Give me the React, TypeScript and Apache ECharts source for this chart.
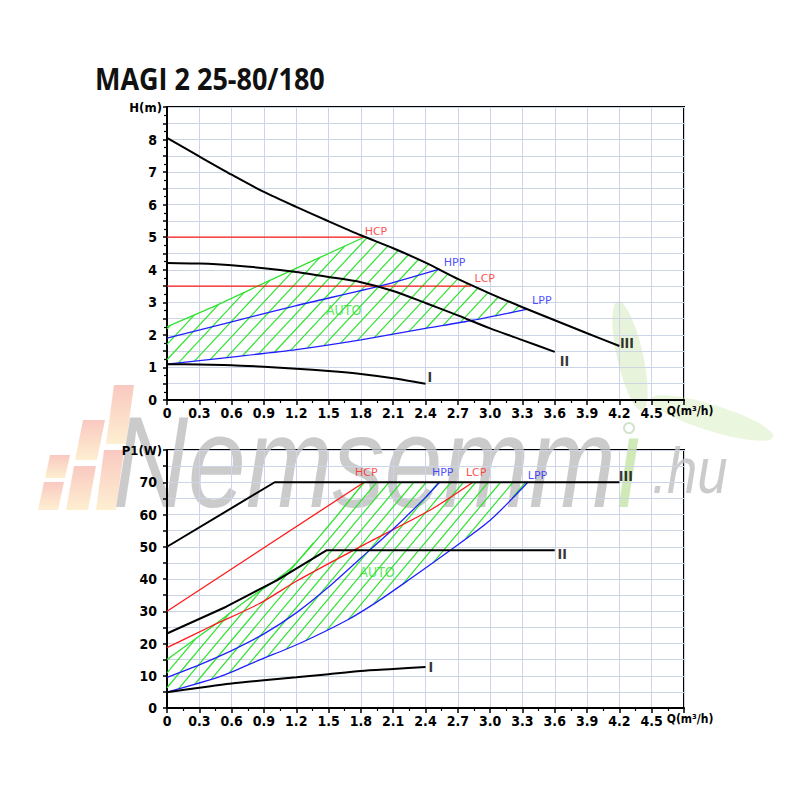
import React, { useEffect, useRef } from 'react';
import * as echarts from 'echarts';

const TITLE = 'MAGI 2 25-80/180';
const RED = '#ff1a1a';
const BLUE = '#2020ff';
const GREEN = '#2fe22f';
const BLACK = '#000000';
const GRID_COLOR = '#cbd5e6';
const AXIS_FONT = "'Liberation Sans Narrow', 'DejaVu Sans Condensed', 'Roboto Condensed', sans-serif";
const TAG_FONT = "'DejaVu Sans', Verdana, sans-serif";

// ---------- x axis ----------
const Q_MIN = 0;
const Q_MAX = 4.8;
const Q_STEP = 0.3;
const Q_NAME = 'Q(m³/h)';

// ---------- head chart H(m) ----------
const headIII = [[0, 8.05], [0.3, 7.48], [0.6, 6.92], [0.9, 6.39], [1.2, 5.93], [1.5, 5.49], [1.8, 5.06], [2.1, 4.66], [2.4, 4.22], [2.7, 3.72], [3.0, 3.27], [3.3, 2.85], [3.6, 2.45], [3.9, 2.05], [4.2, 1.66]];
const headII = [[0, 4.21], [0.3, 4.19], [0.6, 4.14], [0.9, 4.05], [1.2, 3.93], [1.5, 3.78], [1.8, 3.62], [2.1, 3.35], [2.4, 2.98], [2.7, 2.6], [3.0, 2.2], [3.3, 1.84], [3.6, 1.48]];
const headI = [[0, 1.1], [0.3, 1.09], [0.6, 1.07], [0.9, 1.02], [1.2, 0.96], [1.5, 0.89], [1.8, 0.8], [2.1, 0.67], [2.4, 0.5]];
const headHCP = [[0, 5], [1.83, 5]];
const headLCP = [[0, 3.5], [2.82, 3.5]];
const headHPP = [[0, 1.9], [0.6, 2.4], [1.2, 2.9], [2.0, 3.52], [2.53, 4.02]];
const headLPP = [[0, 1.1], [0.6, 1.32], [1.2, 1.55], [1.8, 1.85], [2.4, 2.2], [2.84, 2.45], [3.35, 2.79]];
const headAutoEdge = [[0, 2.25], [0.4, 2.82], [0.96, 3.68], [1.83, 5.0]];
const headLabels = [
  { text: 'HCP', q: 1.94, v: 5.19, color: RED, kind: 'tag' },
  { text: 'HPP', q: 2.67, v: 4.21, color: BLUE, kind: 'tag' },
  { text: 'LCP', q: 2.95, v: 3.74, color: RED, kind: 'tag' },
  { text: 'LPP', q: 3.48, v: 3.07, color: BLUE, kind: 'tag' },
  { text: 'AUTO', q: 1.64, v: 2.76, color: GREEN, kind: 'auto' },
  { text: 'III', q: 4.27, v: 1.76, color: BLACK, kind: 'speed' },
  { text: 'II', q: 3.69, v: 1.2, color: BLACK, kind: 'speed' },
  { text: 'I', q: 2.44, v: 0.7, color: BLACK, kind: 'speed' },
];

// ---------- power chart P1(W) ----------
const powerIII = [[0, 50], [1.0, 70], [4.2, 70]];
const powerII = [[0, 23.1], [0.55, 31.4], [1.02, 39.6], [1.48, 48.9], [3.6, 48.9]];
const powerI = [[0, 4.9], [0.3, 6.3], [0.6, 7.6], [0.9, 8.6], [1.2, 9.5], [1.5, 10.5], [1.8, 11.5], [2.1, 12.1], [2.4, 12.7]];
const powerHCP = [[0, 30], [1.83, 70]];
const powerLCP = [[0, 18.7], [0.4, 25.2], [0.86, 32.4], [1.2, 39.3], [1.85, 51], [2.44, 61.3], [2.84, 70]];
const powerHPP = [[0, 9.5], [0.3, 13.4], [0.6, 17.8], [0.9, 23], [1.2, 29.5], [1.5, 37.5], [1.8, 46.5], [2.1, 55.5], [2.4, 65.3], [2.53, 70]];
const powerLPP = [[0, 4.9], [0.49, 9.7], [0.86, 14.9], [1.23, 20], [1.67, 27.2], [1.95, 32.9], [2.24, 39.6], [2.63, 48.9], [3.0, 58.2], [3.35, 70]];
const powerAutoEdge = [[0, 15], [0.37, 24], [0.74, 33.4], [1.14, 43], [1.5, 56.5], [1.83, 70]];
const powerLabels = [
  { text: 'HCP', q: 1.85, v: 73, color: RED, kind: 'tag' },
  { text: 'HPP', q: 2.56, v: 73, color: BLUE, kind: 'tag' },
  { text: 'LCP', q: 2.87, v: 73, color: RED, kind: 'tag' },
  { text: 'LPP', q: 3.44, v: 72.1, color: BLUE, kind: 'tag' },
  { text: 'AUTO', q: 1.95, v: 42.2, color: GREEN, kind: 'auto' },
  { text: 'III', q: 4.26, v: 71.8, color: BLACK, kind: 'speed' },
  { text: 'II', q: 3.67, v: 47.9, color: BLACK, kind: 'speed' },
  { text: 'I', q: 2.45, v: 12.8, color: BLACK, kind: 'speed' },
];

// ---------- helpers ----------
function interp(curve: number[][], q: number): number {
  for (let i = 0; i < curve.length - 1; i++) {
    const a = curve[i], b = curve[i + 1];
    if (q >= a[0] && q <= b[0]) return a[1] + (b[1] - a[1]) * (q - a[0]) / (b[0] - a[0]);
  }
  return curve[curve.length - 1][1];
}
function sliceCurve(curve: number[][], q0: number, q1: number): number[][] {
  const out = [[q0, interp(curve, q0)]];
  curve.forEach((p) => { if (p[0] > q0 && p[0] < q1) out.push(p); });
  out.push([q1, interp(curve, q1)]);
  return out;
}
function hatch(pts: number[][], angleDeg: number, spacing: number) {
  const a = angleDeg * Math.PI / 180;
  const d = [Math.cos(a), -Math.sin(a)];
  const n = [Math.sin(a), Math.cos(a)];
  const us = pts.map((p) => p[0] * n[0] + p[1] * n[1]);
  const umin = Math.min(...us), umax = Math.max(...us);
  const segs: number[][][] = [];
  for (let u = Math.ceil(umin / spacing) * spacing; u <= umax; u += spacing) {
    const hits: number[][] = [];
    for (let i = 0; i < pts.length; i++) {
      const j = (i + 1) % pts.length;
      const up = us[i], uq = us[j];
      if ((up < u && uq >= u) || (uq < u && up >= u)) {
        const t = (u - up) / (uq - up);
        const x = pts[i][0] + (pts[j][0] - pts[i][0]) * t;
        const y = pts[i][1] + (pts[j][1] - pts[i][1]) * t;
        hits.push([x, y, x * d[0] + y * d[1]]);
      }
    }
    hits.sort((A, B) => A[2] - B[2]);
    for (let k = 0; k + 1 < hits.length; k += 2) segs.push([hits[k], hits[k + 1]]);
  }
  return segs;
}

const headRegion = [[0, headLPP[0][1]], ...headAutoEdge, ...sliceCurve(headIII, 1.83, 3.35), ...headLPP.slice().reverse()];
const powerRegion = [...powerAutoEdge, ...sliceCurve(powerIII, 1.83, 3.35), ...powerLPP.slice().reverse()];

function hatchSeries(region: number[][], idx: number, spacing: number, angle: number) {
  return {
    type: 'custom', xAxisIndex: idx, yAxisIndex: idx, data: [[0, 0]], z: 3, silent: true,
    renderItem: (_p: any, api: any) => {
      const pts = region.map((p) => api.coord(p));
      const segs = hatch(pts, angle, spacing);
      return {
        type: 'group',
        children: segs.map((s) => ({
          type: 'line',
          shape: { x1: s[0][0], y1: s[0][1], x2: s[1][0], y2: s[1][1] },
          style: { stroke: GREEN, lineWidth: 1.2 },
        })),
      };
    },
  };
}

function lineSeries(data: number[][], color: string, width: number, idx: number, smooth: number | boolean) {
  return {
    type: 'line', xAxisIndex: idx, yAxisIndex: idx, data, symbol: 'none', showSymbol: false,
    smooth, silent: true, z: 4,
    lineStyle: { color, width },
  };
}

function labelSeries(list: any[], idx: number) {
  return {
    type: 'scatter', xAxisIndex: idx, yAxisIndex: idx, symbolSize: 0, silent: true, z: 6,
    data: list.map((l) => ({
      value: [l.q, l.v],
      label: {
        show: true, position: 'inside', formatter: l.text, color: l.color,
        fontFamily: l.kind === 'tag' ? TAG_FONT : AXIS_FONT,
        fontSize: l.kind === 'tag' ? 11 : 14,
        fontWeight: l.kind === 'speed' ? 'bold' : 'normal',
      },
    })),
  };
}

function xAxis(idx: number) {
  return {
    type: 'value', gridIndex: idx, min: Q_MIN, max: Q_MAX, interval: Q_STEP, z: 2,
    name: Q_NAME, nameLocation: 'end', nameGap: -19,
    nameTextStyle: {
      color: BLACK, fontFamily: AXIS_FONT, fontSize: 12, fontWeight: 'bold',
      align: 'left', verticalAlign: 'top', padding: [5, 0, 0, 0],
    },
    axisLine: { show: true, onZero: false, lineStyle: { color: BLACK, width: 2 } },
    axisTick: { show: true, length: 5, lineStyle: { color: BLACK, width: 1.5 } },
    minorTick: { show: true, splitNumber: 2, length: 3, lineStyle: { color: BLACK, width: 1.2 } },
    splitLine: { show: true, lineStyle: { color: GRID_COLOR, width: 1 } },
    axisLabel: {
      color: BLACK, fontFamily: AXIS_FONT, fontSize: 14, fontWeight: 'bold', margin: 6,
      showMaxLabel: true, showMinLabel: true, hideOverlap: false,
      formatter: (v: number) => (Math.abs(v - Q_MAX) < 1e-6 ? '' : Math.abs(v) < 1e-9 ? '0' : v.toFixed(1)),
    },
  };
}

function yAxis(idx: number, max: number, step: number, labelStep: number, name: string, minorSplit: number) {
  return {
    type: 'value', gridIndex: idx, min: 0, max, interval: step, z: 2,
    axisLine: { show: true, onZero: false, lineStyle: { color: BLACK, width: 2 } },
    axisTick: { show: true, length: 4, lineStyle: { color: BLACK, width: 1.5 } },
    minorTick: { show: minorSplit > 1, splitNumber: minorSplit, length: 3, lineStyle: { color: BLACK, width: 1.2 } },
    splitLine: { show: true, lineStyle: { color: GRID_COLOR, width: 1 } },
    axisLabel: {
      color: BLACK, fontFamily: AXIS_FONT, fontSize: 14, fontWeight: 'bold', margin: 10,
      showMaxLabel: true, hideOverlap: false,
      formatter: (v: number) => {
        if (Math.abs(v - max) < 1e-6) return '{n|' + name + '}';
        const r = v / labelStep;
        return Math.abs(r - Math.round(r)) < 1e-6 ? String(Math.round(v)) : '';
      },
      rich: {
        n: { fontFamily: AXIS_FONT, fontSize: 13, fontWeight: 'bold', color: BLACK, padding: [0, -5, 0, 0] },
      },
    },
  };
}

function watermark() {
  const els: any[] = [];
  const bars = [
    [[44, 482], [64, 482], [58, 510], [38, 510]],
    [[50, 455], [70, 455], [65, 478], [45, 478]],
    [[74, 466], [96, 466], [88, 510], [66, 510]],
    [[83, 420], [105, 420], [97, 460], [75, 460]],
    [[104, 450], [124, 450], [116, 510], [96, 510]],
    [[114, 385], [134, 385], [126, 444], [106, 444]],
  ];
  bars.forEach((pts) => {
    els.push({
      type: 'polygon', z: 1, silent: true,
      shape: { points: pts },
      style: {
        fill: new echarts.graphic.LinearGradient(0, 0, 0, 1, [
          { offset: 0, color: 'rgba(240,120,100,0.4)' },
          { offset: 1, color: 'rgba(252,215,140,0.4)' },
        ]),
      },
    });
  });
  els.push({
    type: 'ellipse', z: 1, silent: true, x: 630, y: 356, rotation: 0.22,
    shape: { cx: 0, cy: 0, rx: 13, ry: 56 },
    style: { fill: 'rgba(195,228,165,0.4)' },
  });
  els.push({
    type: 'ellipse', z: 1, silent: true, x: 712, y: 418, rotation: -0.3,
    shape: { cx: 0, cy: 0, rx: 64, ry: 13 },
    style: { fill: 'rgba(205,232,175,0.4)' },
  });
  els.push({
    type: 'circle', z: 1, silent: true, shape: { cx: 629, cy: 428, r: 5 },
    style: { fill: 'none', stroke: 'rgba(200,220,190,0.8)', lineWidth: 2 },
  });
  els.push({
    type: 'text', z: 1, silent: true, x: 113, y: 527, scaleX: 0.8,
    style: {
      text: 'Nemsemm', fill: 'rgba(190,190,190,0.8)', fontSize: 130, fontStyle: 'italic',
      fontFamily: "'Liberation Sans', Arial, sans-serif", verticalAlign: 'bottom',
    },
  });
  els.push({
    type: 'text', z: 1, silent: true, x: 614, y: 527, scaleX: 0.8,
    style: {
      text: 'ı', fill: 'rgba(200,230,170,0.85)', fontSize: 130, fontStyle: 'italic',
      fontFamily: "'Liberation Sans', Arial, sans-serif", verticalAlign: 'bottom',
    },
  });
  els.push({
    type: 'text', z: 1, silent: true, x: 652, y: 503, scaleX: 0.85,
    style: {
      text: '.hu', fill: 'rgba(190,190,190,0.8)', fontSize: 64, fontStyle: 'italic',
      fontFamily: "'Liberation Sans', Arial, sans-serif", verticalAlign: 'bottom',
    },
  });
  els.push({
    type: 'text', z: 10, silent: true, x: 95, y: 78, scaleX: 0.9,
    style: {
      text: TITLE, fill: '#111', fontSize: 30, fontWeight: 'bold',
      fontFamily: "'Open Sans', 'Noto Sans', sans-serif", verticalAlign: 'middle',
    },
  });
  return els;
}

export default function App() {
  const ref = useRef<HTMLDivElement>(null);
  useEffect(() => {
    if (!ref.current) return;
    const chart = echarts.init(ref.current, undefined, { renderer: 'svg' });
    const option: any = {
      animation: false,
      backgroundColor: '#ffffff',
      grid: [
        { left: 167, top: 107, width: 517, height: 293, show: true, borderColor: BLACK, borderWidth: 2, backgroundColor: 'transparent' },
        { left: 167, top: 450, width: 517, height: 258, show: true, borderColor: BLACK, borderWidth: 2, backgroundColor: 'transparent' },
      ],
      xAxis: [xAxis(0), xAxis(1)],
      yAxis: [
        yAxis(0, 9, 0.5, 1, 'H(m)', 2),
        yAxis(1, 80, 5, 10, 'P1(W)', 1),
      ],
      graphic: watermark(),
      series: [
        hatchSeries(headRegion, 0, 10.5, 47),
        lineSeries(headAutoEdge, GREEN, 1.3, 0, 0.25),
        lineSeries(headHCP, RED, 1.3, 0, false),
        lineSeries(headLCP, RED, 1.3, 0, false),
        lineSeries(headHPP, BLUE, 1.3, 0, 0.25),
        lineSeries(headLPP, BLUE, 1.3, 0, 0.25),
        lineSeries(headIII, BLACK, 2, 0, 0.25),
        lineSeries(headII, BLACK, 2, 0, 0.25),
        lineSeries(headI, BLACK, 2, 0, 0.25),
        labelSeries(headLabels, 0),
        hatchSeries(powerRegion, 1, 9.5, 50),
        lineSeries(powerAutoEdge, GREEN, 1.3, 1, 0.25),
        lineSeries(powerHCP, RED, 1.3, 1, false),
        lineSeries(powerLCP, RED, 1.3, 1, 0.25),
        lineSeries(powerHPP, BLUE, 1.3, 1, 0.25),
        lineSeries(powerLPP, BLUE, 1.3, 1, 0.25),
        lineSeries(powerIII, BLACK, 2, 1, false),
        lineSeries(powerII, BLACK, 2, 1, false),
        lineSeries(powerI, BLACK, 2, 1, 0.25),
        labelSeries(powerLabels, 1),
      ],
    };
    chart.setOption(option);
    return () => chart.dispose();
  }, []);
  return <div ref={ref} style={{ position: 'fixed', left: 0, top: 0, width: 800, height: 800, background: '#fff' }} />;
}
